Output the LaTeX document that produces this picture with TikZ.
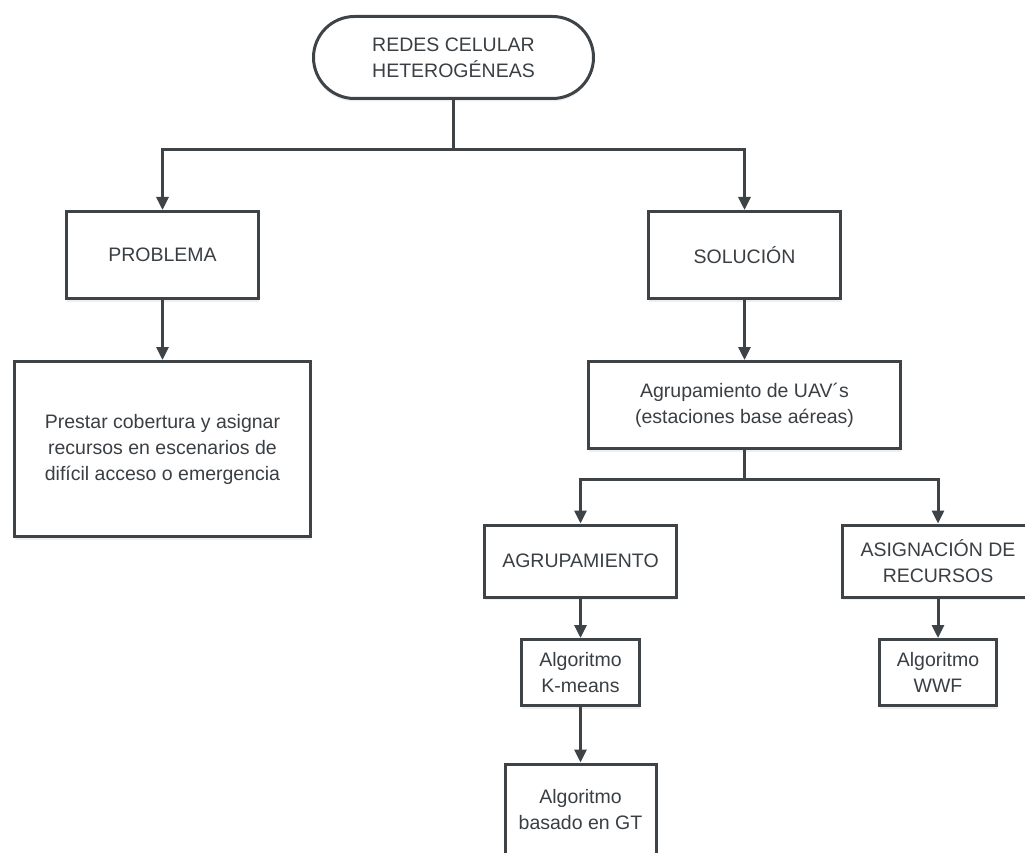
\documentclass[tikz,border=0pt]{standalone}
\usepackage{fontspec}
\setmainfont{Liberation Sans}
\usetikzlibrary{arrows.meta,shadows}
\definecolor{edge}{HTML}{3D4347}
\definecolor{txt}{HTML}{3A3F44}
\tikzset{
  box/.style={draw=edge, line width=3pt, fill=white, align=center, text=txt,
    inner sep=0pt, font=\fontsize{19.5pt}{26pt}\selectfont,
    drop shadow={shadow xshift=0pt, shadow yshift=-3pt, opacity=0.12}},
  conn/.style={draw=edge, line width=3pt},
  arr/.style={conn, -{Triangle[length=13pt,width=12pt]}},
}
\begin{document}
\begin{tikzpicture}[x=1pt,y=-1pt]
\clip (0,0) rectangle (1025,853);
\fill[white] (0,0) rectangle (1025,853);

\node[box, rounded corners=41pt, minimum width=280pt, minimum height=82pt] (top) at (453.5,57.5) {REDES CELULAR\\HETEROGÉNEAS};
\node[box, minimum width=192pt, minimum height=87pt] (prob) at (162.5,255) {PROBLEMA};
\node[box, minimum width=192pt, minimum height=87pt] (sol) at (744.5,255) {SOLUCIÓN};
\node[box, minimum width=296pt, minimum height=175pt] (prest) at (162.5,449) {Prestar cobertura y asignar\\recursos en escenarios de\\difícil acceso o emergencia};
\node[box, minimum width=312pt, minimum height=87pt] (agr) at (744.5,405) {Agrupamiento de UAV´s\\(estaciones base aéreas)};
\node[box, minimum width=192pt, minimum height=72pt] (agrp) at (580.5,561) {AGRUPAMIENTO};
\node[box, minimum width=191pt, minimum height=72pt] (asig) at (938,561) {ASIGNACIÓN DE\\RECURSOS};
\node[box, minimum width=118pt, minimum height=66pt] (kmeans) at (580.5,672.5) {Algoritmo\\K-means};
\node[box, minimum width=117pt, minimum height=66pt] (wwf) at (938,672.5) {Algoritmo\\WWF};
\node[box, minimum width=151pt, minimum height=92pt] (gt) at (580.5,810) {Algoritmo\\basado en GT};

\coordinate (j1) at (453.5,150);
\coordinate (j2) at (744.5,479);
\draw[conn] (top) -- (j1);
\draw[arr] (j1) -| (prob);
\draw[arr] (j1) -| (sol);
\draw[arr] (prob) -- (prest);
\draw[arr] (sol) -- (agr);
\draw[conn] (agr) -- (j2);
\draw[arr] (j2) -| (agrp);
\draw[arr] (j2) -| (asig);
\draw[arr] (agrp) -- (kmeans);
\draw[arr] (kmeans) -- (gt);
\draw[arr] (asig) -- (wwf);
\end{tikzpicture}
\end{document}
